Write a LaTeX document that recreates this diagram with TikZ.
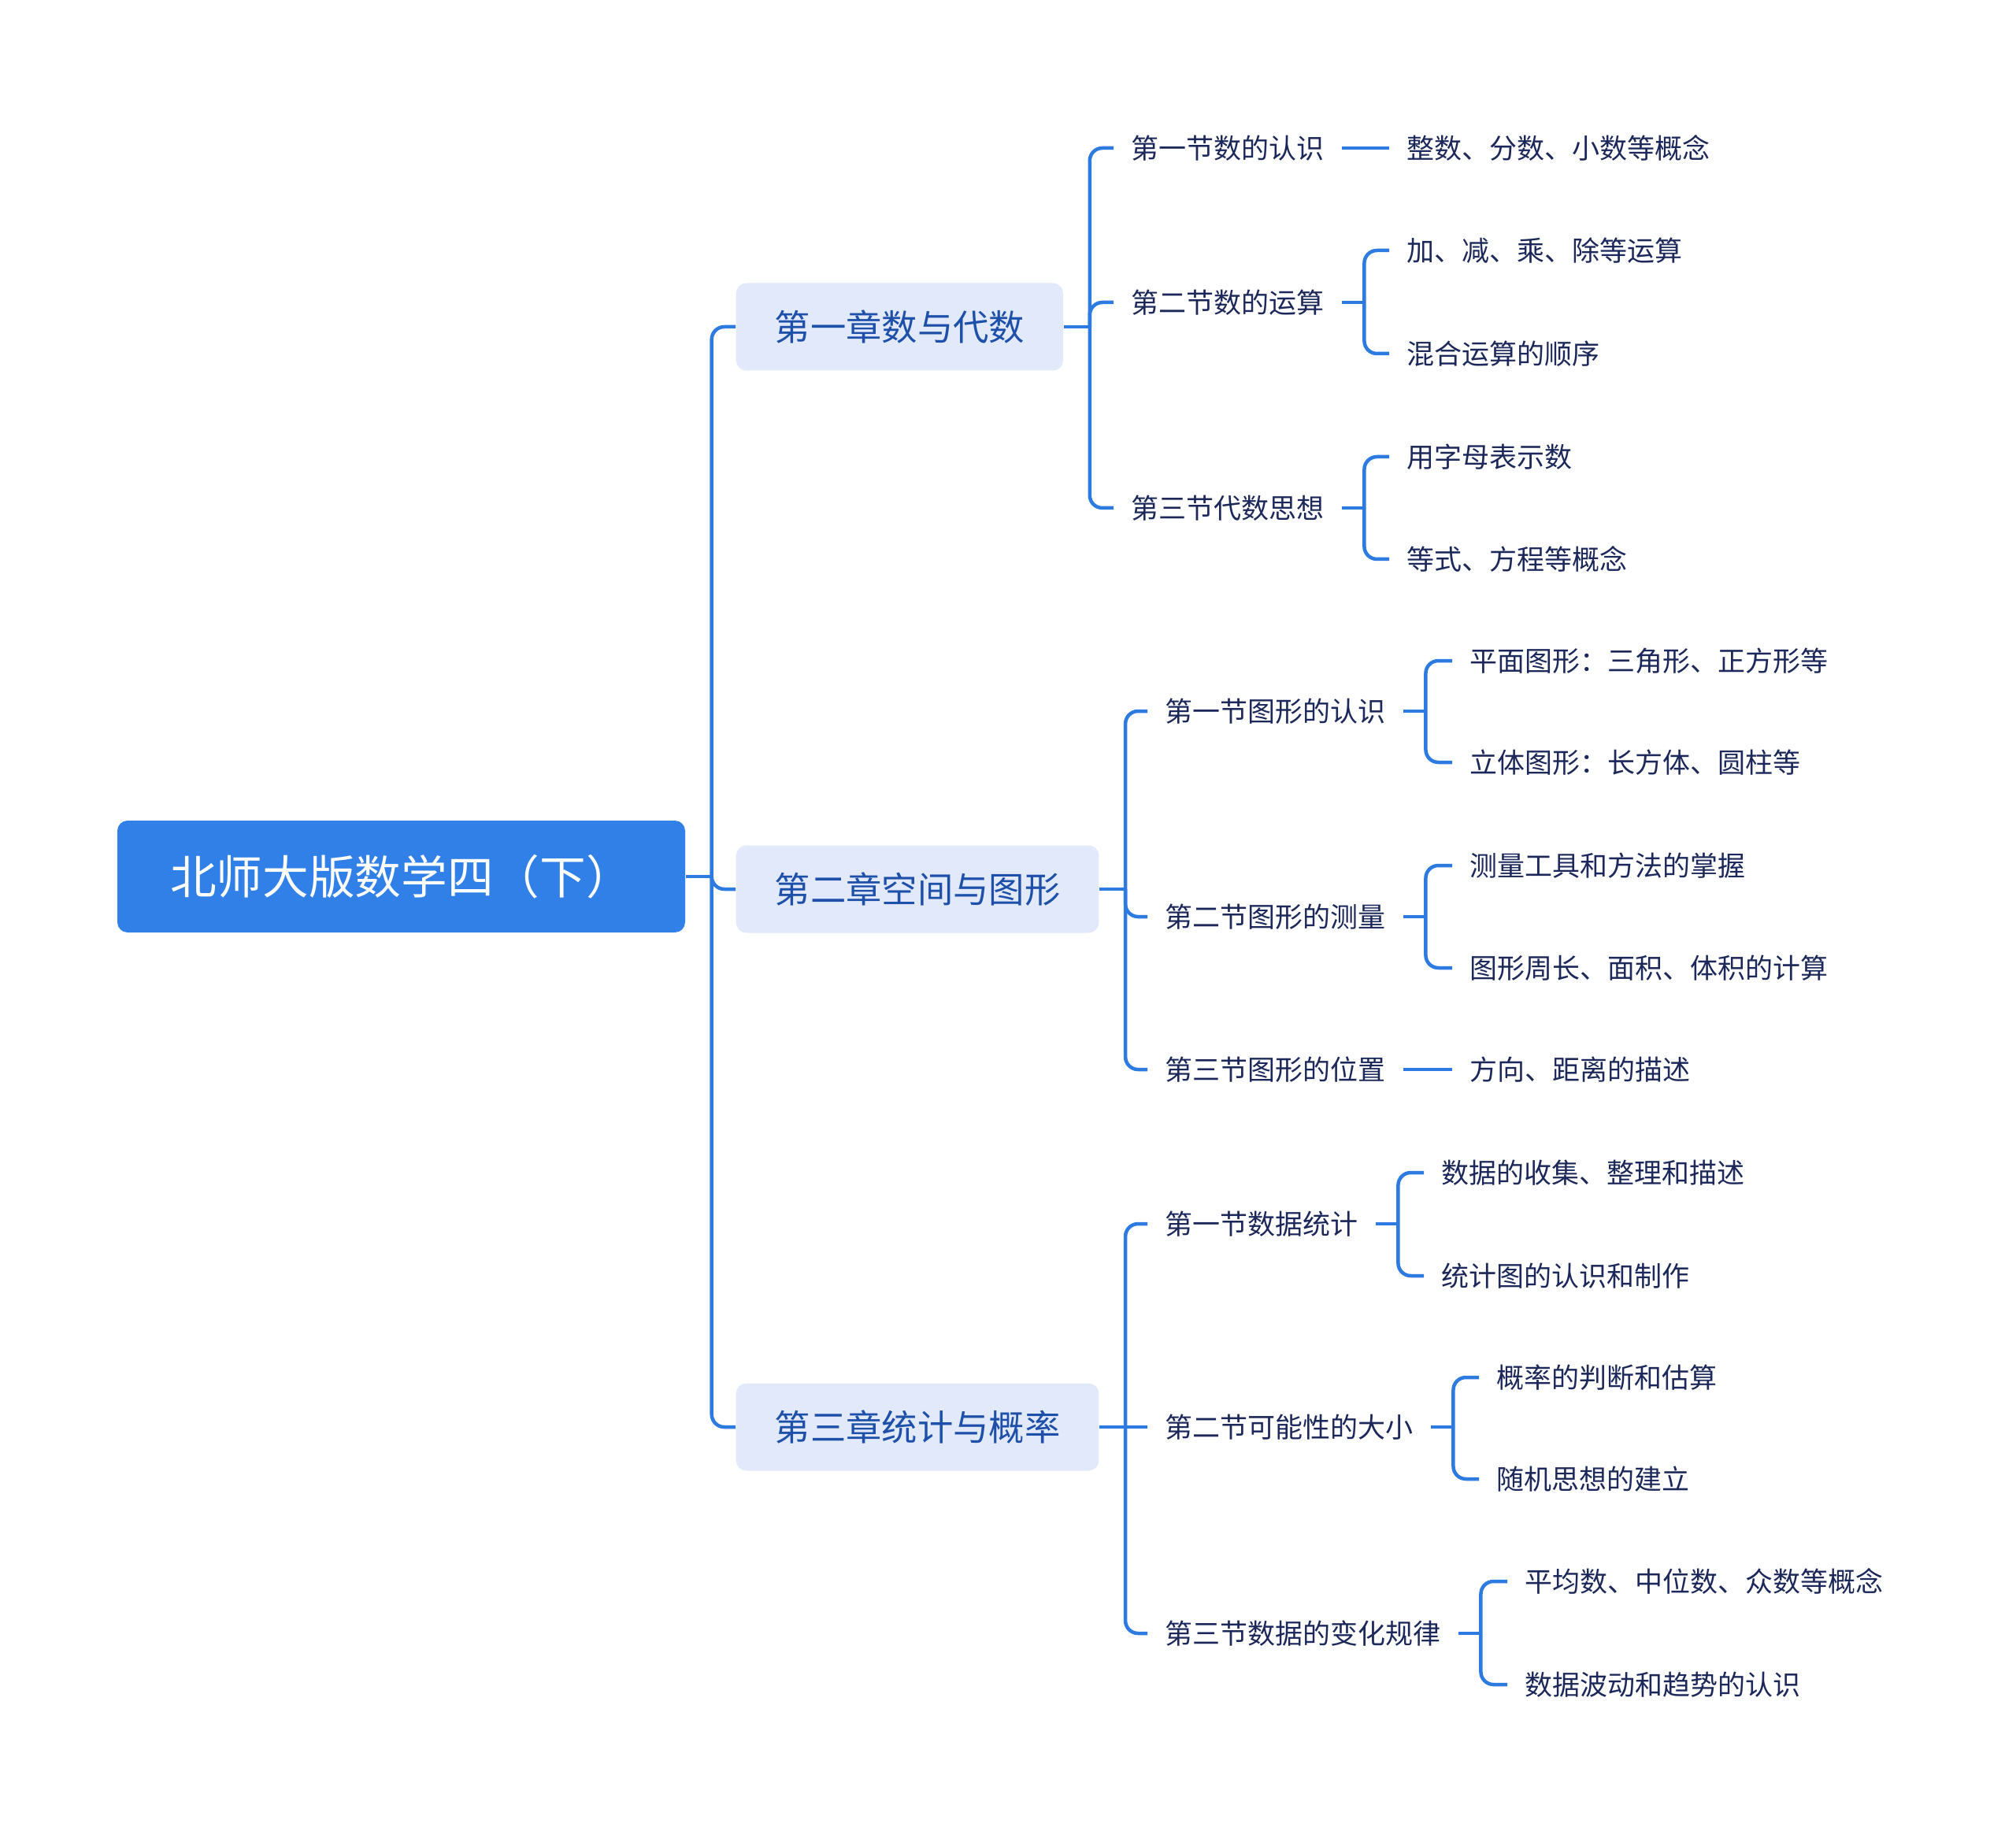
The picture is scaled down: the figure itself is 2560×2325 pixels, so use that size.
\documentclass[tikz,border=0pt]{standalone}
\usepackage{fontspec}
\setmainfont{Noto Sans CJK SC}
\usetikzlibrary{positioning, calc}

\definecolor{rootblue}{RGB}{49,128,232}
\definecolor{linkblue}{RGB}{45,123,224}
\definecolor{chapfill}{RGB}{225,233,251}
\definecolor{chaptext}{RGB}{30,80,170}
\definecolor{itemtext}{RGB}{28,40,90}

\begin{document}
\begin{tikzpicture}[
    x=0.1mm, y=-0.1mm,
    root/.style={fill=rootblue, rounded corners=1.3mm, minimum width=72.1mm, minimum height=14.2mm, text=white, font=\fontsize{16.7pt}{20pt}\selectfont},
    chapter/.style={fill=chapfill, rounded corners=1.3mm, minimum height=11.1mm, inner xsep=4.9mm, text=chaptext, font=\fontsize{12.9pt}{15pt}\selectfont, anchor=west},
    item/.style={inner xsep=2.2mm, inner ysep=1mm, text=itemtext, font=\fontsize{9.96pt}{12pt}\selectfont, anchor=west},
    link/.style={draw=linkblue, line width=0.45mm, rounded corners=1.6mm}
]
\useasboundingbox (0,0) rectangle (2560,2325);

% Nodes
\node[root] (root) at (509.5, 1113) {北师大版数学四（下）};
\node[chapter] (ch1) at (934, 415) {第一章数与代数};
\node[chapter] (ch2) at (934, 1129) {第二章空间与图形};
\node[chapter] (ch3) at (934, 1812) {第三章统计与概率};

% Sections chapter 1
\node[item] (s11) at (1414, 188) {第一节数的认识};
\node[item] (s12) at (1414, 384) {第二节数的运算};
\node[item] (s13) at (1414, 645) {第三节代数思想};

% Leaves chapter 1
\node[item] (l111) at (1764, 188) {整数、分数、小数等概念};
\node[item] (l121) at (1764, 318) {加、减、乘、除等运算};
\node[item] (l122) at (1764, 449) {混合运算的顺序};
\node[item] (l131) at (1764, 580) {用字母表示数};
\node[item] (l132) at (1764, 710) {等式、方程等概念};

% Sections chapter 2
\node[item] (s21) at (1457, 903) {第一节图形的认识};
\node[item] (s22) at (1457, 1164) {第二节图形的测量};
\node[item] (s23) at (1457, 1358) {第三节图形的位置};

% Leaves chapter 2
\node[item] (l211) at (1844, 839) {平面图形：三角形、正方形等};
\node[item] (l212) at (1844, 968) {立体图形：长方体、圆柱等};
\node[item] (l221) at (1844, 1099) {测量工具和方法的掌握};
\node[item] (l222) at (1844, 1229) {图形周长、面积、体积的计算};
\node[item] (l231) at (1844, 1358) {方向、距离的描述};

% Sections chapter 3
\node[item] (s31) at (1457, 1554) {第一节数据统计};
\node[item] (s32) at (1457, 1812) {第二节可能性的大小};
\node[item] (s33) at (1457, 2074) {第三节数据的变化规律};

% Leaves chapter 3
\node[item] (l311) at (1808, 1489) {数据的收集、整理和描述};
\node[item] (l312) at (1808, 1620) {统计图的认识和制作};
\node[item] (l321) at (1878, 1749) {概率的判断和估算};
\node[item] (l322) at (1878, 1878) {随机思想的建立};
\node[item] (l331) at (1914, 2008) {平均数、中位数、众数等概念};
\node[item] (l332) at (1914, 2139) {数据波动和趋势的认识};

% Fork points
\coordinate (rootb) at ([xshift=3.3mm]root.east);
\coordinate (ch1b) at ([xshift=3.3mm]ch1.east);
\coordinate (ch2b) at ([xshift=3.3mm]ch2.east);
\coordinate (ch3b) at ([xshift=3.3mm]ch3.east);
\coordinate (s12b) at ([xshift=2.8mm]s12.east);
\coordinate (s13b) at ([xshift=2.8mm]s13.east);
\coordinate (s21b) at ([xshift=2.8mm]s21.east);
\coordinate (s22b) at ([xshift=2.8mm]s22.east);
\coordinate (s31b) at ([xshift=2.8mm]s31.east);
\coordinate (s32b) at ([xshift=2.8mm]s32.east);
\coordinate (s33b) at ([xshift=2.8mm]s33.east);

% Root to chapters
\draw[link] (root.east) -- (rootb);
\draw[link] (rootb) |- (ch1.west);
\draw[link] (rootb) |- (ch2.west);
\draw[link] (rootb) |- (ch3.west);

% Chapter 1 edges
\draw[link] (ch1.east) -- (ch1b);
\draw[link] (ch1b) |- (s11.west);
\draw[link] (ch1b) |- (s12.west);
\draw[link] (ch1b) |- (s13.west);
\draw[link] (s11.east) -- (l111.west);
\draw[link] (s12.east) -- (s12b);
\draw[link] (s12b) |- (l121.west);
\draw[link] (s12b) |- (l122.west);
\draw[link] (s13.east) -- (s13b);
\draw[link] (s13b) |- (l131.west);
\draw[link] (s13b) |- (l132.west);

% Chapter 2 edges
\draw[link] (ch2.east) -- (ch2b);
\draw[link] (ch2b) |- (s21.west);
\draw[link] (ch2b) |- (s22.west);
\draw[link] (ch2b) |- (s23.west);
\draw[link] (s21.east) -- (s21b);
\draw[link] (s21b) |- (l211.west);
\draw[link] (s21b) |- (l212.west);
\draw[link] (s22.east) -- (s22b);
\draw[link] (s22b) |- (l221.west);
\draw[link] (s22b) |- (l222.west);
\draw[link] (s23.east) -- (l231.west);

% Chapter 3 edges
\draw[link] (ch3.east) -- (ch3b);
\draw[link] (ch3b) |- (s31.west);
\draw[link] (ch3b) -- (s32.west);
\draw[link] (ch3b) |- (s33.west);
\draw[link] (s31.east) -- (s31b);
\draw[link] (s31b) |- (l311.west);
\draw[link] (s31b) |- (l312.west);
\draw[link] (s32.east) -- (s32b);
\draw[link] (s32b) |- (l321.west);
\draw[link] (s32b) |- (l322.west);
\draw[link] (s33.east) -- (s33b);
\draw[link] (s33b) |- (l331.west);
\draw[link] (s33b) |- (l332.west);

\end{tikzpicture}
\end{document}
